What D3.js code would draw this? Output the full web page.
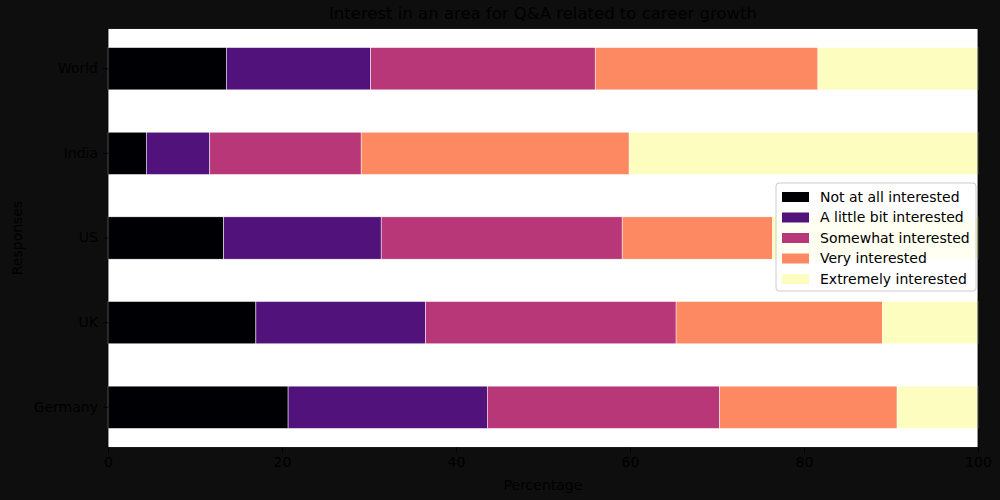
<!DOCTYPE html>
<meta charset="utf-8">
<body style="margin:0;background:#0e0e0e">
<script src="https://cdn.jsdelivr.net/npm/d3@7"></script>
<script>

const countries = ["World", "India", "US", "UK", "Germany"];
const levels = ["Not at all interested", "A little bit interested", "Somewhat interested",
                "Very interested", "Extremely interested"];
const notAtAll   = [13.6, 4.4, 13.3, 17.0, 20.7];
const littleBit  = [16.6, 7.3, 18.1, 19.5, 22.9];
const somewhat   = [25.8, 17.4, 27.7, 28.8, 26.7];
const very       = [25.6, 30.8, 17.3, 23.7, 20.4];
const extremely  = [18.4, 40.1, 23.6, 11.0, 9.3];
const xTicks = [0, 20, 40, 60, 80, 100];
const colors = ["#000004", "#51127c", "#b73779", "#fc8961", "#fcfdbf"];

const W = 1000, H = 500;
const margin = {top: 28.5, right: 22, bottom: 52.5, left: 108},
    width = W - margin.left - margin.right,
    height = H - margin.top - margin.bottom;

const font = "DejaVu Sans, sans-serif";

let svg = d3.select("body").append("svg")
    .attr("width", W)
    .attr("height", H)
    .style("background", "#0e0e0e")
    .style("font-family", font);

let g = svg.append("g")
    .attr("transform", `translate(${margin.left},${margin.top})`);

let x = d3.scaleLinear().domain([0, 100]).range([0, width]);
let y = d3.scaleBand().domain(countries).range([0, height])
    .paddingInner(0.5).paddingOuter(0.225);
let color = d3.scaleOrdinal().domain(levels).range(colors);

g.append("rect")
    .attr("width", width)
    .attr("height", height)
    .attr("fill", "#fff");

// stack the series
const series = [notAtAll, littleBit, somewhat, very, extremely];
const rows = countries.map((c, i) => {
  let r = {country: c};
  levels.forEach((l, j) => r[l] = series[j][i]);
  return r;
});
const stacked = d3.stack().keys(levels)(rows);

g.selectAll(".layer")
  .data(stacked)
  .join("g")
    .attr("class", "layer")
    .attr("fill", d => color(d.key))
  .selectAll("rect")
  .data(d => d)
  .join("rect")
    .attr("x", d => x(d[0]))
    .attr("y", d => y(d.data.country))
    .attr("width", d => x(d[1]) - x(d[0]))
    .attr("height", y.bandwidth())
    .attr("stroke", "#fff")
    .attr("stroke-width", 0.5);

// axes
let xAxis = g.append("g")
    .attr("transform", `translate(0,${height})`)
    .call(d3.axisBottom(x).tickValues(xTicks).tickSize(5).tickPadding(5));
let yAxis = g.append("g")
    .call(d3.axisLeft(y).tickSize(5).tickPadding(5));

[xAxis, yAxis].forEach(a => {
  a.selectAll("text").attr("fill", "#000").style("font-size", "14px").style("font-family", font);
  a.selectAll("line").attr("stroke", "#000");
  a.select(".domain").remove();
});

g.append("rect")
    .attr("width", width)
    .attr("height", height)
    .attr("fill", "none")
    .attr("stroke", "#000")
    .attr("stroke-width", 0.8);

// title and labels
svg.append("text")
    .attr("x", margin.left + width / 2)
    .attr("y", 19)
    .attr("text-anchor", "middle")
    .style("font-size", "16.5px")
    .attr("fill", "#000")
    .text("Interest in an area for Q&A related to career growth");

svg.append("text")
    .attr("x", margin.left + width / 2)
    .attr("y", 490)
    .attr("text-anchor", "middle")
    .style("font-size", "14px")
    .attr("fill", "#000")
    .text("Percentage");

svg.append("text")
    .attr("transform", `translate(22,${margin.top + height / 2}) rotate(-90)`)
    .attr("text-anchor", "middle")
    .style("font-size", "14px")
    .attr("fill", "#000")
    .text("Responses");

// legend
let legend = svg.append("g")
    .attr("transform", "translate(776,183)");

legend.append("rect")
    .attr("width", 200)
    .attr("height", 108)
    .attr("rx", 3)
    .attr("fill", "#fff")
    .attr("fill-opacity", 0.8)
    .attr("stroke", "#ccc");

let item = legend.selectAll(".item")
  .data(levels)
  .join("g")
    .attr("class", "item")
    .attr("transform", (d, i) => `translate(6,${14 + i * 20.5})`);

item.append("rect")
    .attr("y", -5)
    .attr("width", 27)
    .attr("height", 10)
    .attr("fill", color);

item.append("text")
    .attr("x", 38)
    .attr("dy", "0.35em")
    .style("font-size", "14px")
    .attr("fill", "#000")
    .text(d => d);

</script>
